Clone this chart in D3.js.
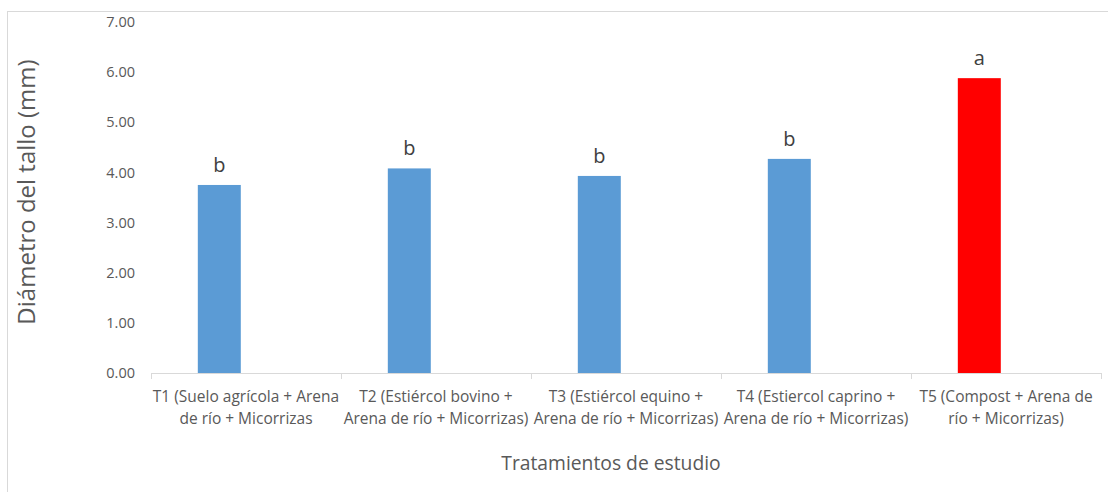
<!DOCTYPE html>
<html>
<head>
<meta charset="utf-8">
<script src="https://cdn.jsdelivr.net/npm/d3@7"></script>
<style>
  body { margin: 0; background: #fff; }
  svg text { font-family: "Open Sans", "Noto Sans", sans-serif; }
</style>
</head>
<body>
<svg id="chart" width="1108" height="492"></svg>
<script>
// chart data
const categories = ["T1", "T2", "T3", "T4", "T5"];
const labelLines = [
  ["T1 (Suelo agrícola + Arena", "de río + Micorrizas"],
  ["T2 (Estiércol bovino +", "Arena de río + Micorrizas)"],
  ["T3 (Estiércol equino +", "Arena de río + Micorrizas)"],
  ["T4 (Estiercol caprino +", "Arena de río + Micorrizas)"],
  ["T5 (Compost + Arena de", "río + Micorrizas)"]
];
const values = [3.75, 4.08, 3.93, 4.27, 5.88];
const letters = ["b", "b", "b", "b", "a"];
const barColors = ["#5b9bd5", "#5b9bd5", "#5b9bd5", "#5b9bd5", "#ff0000"];
const yTicks = [0, 1, 2, 3, 4, 5, 6, 7];

const svg = d3.select("#chart");
const margin = { left: 151, right: 7, top: 22, bottom: 119 };
const W = 1108, H = 492;

// outer chart border (runs off the right and bottom edge)
svg.append("rect")
  .attr("x", 7.5).attr("y", 11.5)
  .attr("width", W).attr("height", H)
  .attr("fill", "none").attr("stroke", "#d9d9d9");

const x = d3.scaleBand()
  .domain(categories)
  .range([margin.left, W - margin.right])
  .padding(0);

// second (empty) series slot pushes bars to the left, like the original
const xSub = d3.scaleBand()
  .domain(["value", "empty"])
  .range([0, x.bandwidth()])
  .paddingInner(0)
  .paddingOuter(1.21)
  .align(0.45);

const y = d3.scaleLinear()
  .domain([0, 7])
  .range([H - margin.bottom, margin.top]);

// y tick labels
svg.append("g")
  .selectAll("text")
  .data(yTicks)
  .join("text")
  .attr("x", 135)
  .attr("y", d => y(d))
  .attr("dy", "0.35em")
  .attr("text-anchor", "end")
  .attr("font-size", 14.5)
  .attr("fill", "#595959")
  .text(d => d.toFixed(2));

// bars
svg.append("g")
  .selectAll("rect")
  .data(values)
  .join("rect")
  .attr("x", (d, i) => x(categories[i]) + xSub("value"))
  .attr("y", d => y(d))
  .attr("width", xSub.bandwidth())
  .attr("height", d => y(0) - y(d))
  .attr("fill", (d, i) => barColors[i]);

// significance letters
svg.append("g")
  .selectAll("text")
  .data(values)
  .join("text")
  .attr("x", (d, i) => x(categories[i]) + xSub("value") + xSub.bandwidth() / 2)
  .attr("y", d => y(d) - 13)
  .attr("text-anchor", "middle")
  .attr("font-size", 20)
  .attr("fill", "#404040")
  .text((d, i) => letters[i]);

// x axis line and boundary ticks
const axis = svg.append("g");
axis.append("line")
  .attr("x1", margin.left).attr("x2", W - margin.right)
  .attr("y1", y(0) + 0.5).attr("y2", y(0) + 0.5)
  .attr("stroke", "#d9d9d9");
const bounds = categories.map(c => x(c)).concat([x(categories[categories.length - 1]) + x.bandwidth()]);
axis.selectAll(".tk")
  .data(bounds)
  .join("line")
  .attr("class", "tk")
  .attr("x1", d => Math.round(d) + 0.5).attr("x2", d => Math.round(d) + 0.5)
  .attr("y1", y(0)).attr("y2", y(0) + 6)
  .attr("stroke", "#d9d9d9");

// x tick labels (two lines)
const xl = svg.append("g")
  .selectAll("text")
  .data(categories)
  .join("text")
  .attr("x", d => x(d) + x.bandwidth() / 2)
  .attr("y", 402)
  .attr("text-anchor", "middle")
  .attr("font-size", 15.5)
  .attr("fill", "#595959");
xl.selectAll("tspan")
  .data((d, i) => labelLines[i])
  .join("tspan")
  .attr("x", function () { return d3.select(this.parentNode).attr("x"); })
  .attr("dy", (d, j) => j === 0 ? 0 : 22)
  .text(d => d);

// axis titles
svg.append("text")
  .attr("x", 611).attr("y", 470)
  .attr("text-anchor", "middle")
  .attr("font-size", 19.3)
  .attr("fill", "#595959")
  .text("Tratamientos de estudio");

svg.append("text")
  .attr("transform", "translate(35,192) rotate(-90)")
  .attr("text-anchor", "middle")
  .attr("font-size", 24)
  .attr("fill", "#595959")
  .text("Diámetro del tallo (mm)");
</script>
</body>
</html>
